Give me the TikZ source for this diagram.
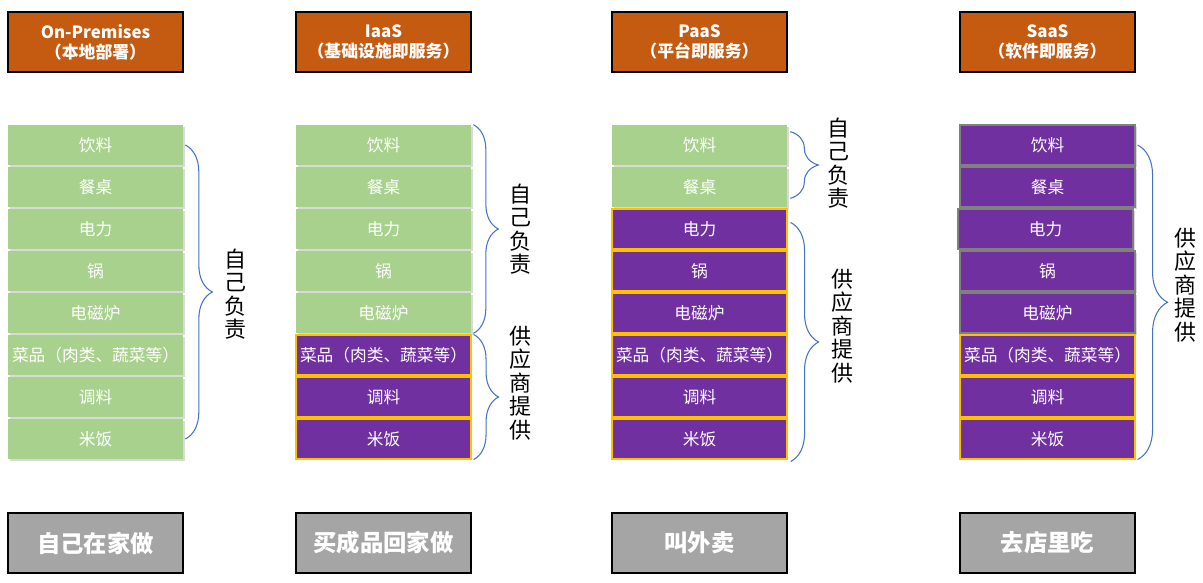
\documentclass[tikz,border=0pt]{standalone}
\usepackage{fontspec}
\setmainfont{Noto Sans CJK SC}
\usetikzlibrary{decorations.pathreplacing,shadows}

\definecolor{headorange}{HTML}{C55A11}
\definecolor{selfgreen}{HTML}{A9D18E}
\definecolor{vendorpurple}{HTML}{7030A0}
\definecolor{vendorgold}{HTML}{FFC000}
\definecolor{footgray}{HTML}{A5A5A5}
\definecolor{braceblue}{HTML}{4472C4}

\tikzset{
  header/.style={draw=black, line width=0.8pt, fill=headorange, text=white, align=center,
    minimum width=3.5cm, minimum height=1.2cm, inner sep=1pt, font=\bfseries\fontsize{9.6}{11.3}\selectfont},
  footer/.style={draw=black, line width=0.8pt, fill=footgray, text=white,
    minimum width=3.5cm, minimum height=1.2cm, font=\bfseries\fontsize{13.3}{15}\selectfont},
  selfbox/.style={fill=selfgreen, text=white, minimum width=3.5cm, minimum height=0.8cm, inner sep=1pt,
    font=\fontsize{9.5}{11}\selectfont, drop shadow={opacity=0.3, shadow xshift=1.2pt, shadow yshift=-1.2pt}},
  vendorbox/.style={fill=vendorpurple, draw=vendorgold, line width=0.65pt, text=white, minimum width=3.5cm,
    minimum height=0.8cm, inner sep=1pt, font=\fontsize{9.5}{11}\selectfont},
  vendorshadow/.style={vendorbox, draw=gray, drop shadow={opacity=0.3, shadow xshift=1.2pt, shadow yshift=-1.2pt}},
  bracket/.style={decorate, draw=braceblue, line width=0.6pt},
  vtext/.style={align=center, inner sep=0pt, font=\fontsize{12.5}{13.3}\selectfont}
}

\begin{document}
\begin{tikzpicture}[x=0.02cm, y=-0.02cm]
  \useasboundingbox (0,0) rectangle (1203,582);

  % On-Premises
  \node[header] (ophead) at (95.5,42) {On-Premises\\（本地部署）};
  \node[selfbox] (op1) at (95.5,145) {饮料};
  \node[selfbox] (op2) at (95.5,187) {餐桌};
  \node[selfbox] (op3) at (95.5,229) {电力};
  \node[selfbox] (op4) at (95.5,271) {锅};
  \node[selfbox] (op5) at (95.5,313) {电磁炉};
  \node[selfbox] (op6) at (95.5,355) {菜品（肉类、蔬菜等）};
  \node[selfbox] (op7) at (95.5,397) {调料};
  \node[selfbox] (op8) at (95.5,439) {米饭};
  \node[footer] (opfoot) at (95.5,543) {自己在家做};
  \draw[bracket, decoration={brace, amplitude=0.54cm}] ([xshift=0.04cm]op1.east) -- ([xshift=0.04cm]op8.east);
  \node[vtext] (opself) at (235,294) {自\\己\\负\\责};

  % IaaS
  \node[header] (iaashead) at (383.5,42) {IaaS\\（基础设施即服务）};
  \node[selfbox] (iaas1) at (383.5,145) {饮料};
  \node[selfbox] (iaas2) at (383.5,187) {餐桌};
  \node[selfbox] (iaas3) at (383.5,229) {电力};
  \node[selfbox] (iaas4) at (383.5,271) {锅};
  \node[selfbox] (iaas5) at (383.5,313) {电磁炉};
  \node[vendorbox] (iaas6) at (383.5,355) {菜品（肉类、蔬菜等）};
  \node[vendorbox] (iaas7) at (383.5,397) {调料};
  \node[vendorbox] (iaas8) at (383.5,439) {米饭};
  \node[footer] (iaasfoot) at (383.5,543) {买成品回家做};
  \draw[bracket, decoration={brace, amplitude=0.5cm}] ([xshift=0.04cm]iaas1.north east) -- ([xshift=0.04cm]iaas5.south east);
  \draw[bracket, decoration={brace, amplitude=0.5cm}] ([xshift=0.04cm]iaas6.north east) -- ([xshift=0.04cm]iaas8.south east);
  \node[vtext] (iaasself) at (520,229) {自\\己\\负\\责};
  \node[vtext] (iaasvendor) at (520,383) {供\\应\\商\\提\\供};

  % PaaS
  \node[header] (paashead) at (699.5,42) {PaaS\\（平台即服务）};
  \node[selfbox] (paas1) at (699.5,145) {饮料};
  \node[selfbox] (paas2) at (699.5,187) {餐桌};
  \node[vendorbox] (paas3) at (699.5,229) {电力};
  \node[vendorbox] (paas4) at (699.5,271) {锅};
  \node[vendorbox] (paas5) at (699.5,313) {电磁炉};
  \node[vendorbox] (paas6) at (699.5,355) {菜品（肉类、蔬菜等）};
  \node[vendorbox] (paas7) at (699.5,397) {调料};
  \node[vendorbox] (paas8) at (699.5,439) {米饭};
  \node[footer] (paasfoot) at (699.5,543) {叫外卖};
  \draw[bracket, decoration={brace, amplitude=0.56cm}] ([xshift=0.06cm, yshift=-0.14cm]paas1.north east) -- ([xshift=0.06cm, yshift=0.18cm]paas2.south east);
  \draw[bracket, decoration={brace, amplitude=0.56cm}] ([xshift=0.06cm, yshift=-0.28cm]paas3.north east) -- ([xshift=0.06cm, yshift=-0.04cm]paas8.south east);
  \node[vtext] (paasself) at (838,163) {自\\己\\负\\责};
  \node[vtext] (paasvendor) at (842,326) {供\\应\\商\\提\\供};

  % SaaS
  \node[header] (saashead) at (1047.5,42) {SaaS\\（软件即服务）};
  \node[vendorshadow] (saas1) at (1047.5,145) {饮料};
  \node[vendorshadow] (saas2) at (1047.5,187) {餐桌};
  \node[vendorshadow] (saas3) at (1045.5,229) {电力};
  \node[vendorshadow] (saas4) at (1047.5,271) {锅};
  \node[vendorshadow] (saas5) at (1047.5,313) {电磁炉};
  \node[vendorbox] (saas6) at (1047.5,355) {菜品（肉类、蔬菜等）};
  \node[vendorbox] (saas7) at (1047.5,397) {调料};
  \node[vendorbox] (saas8) at (1047.5,439) {米饭};
  \node[footer] (saasfoot) at (1047.5,543) {去店里吃};
  \draw[bracket, decoration={brace, amplitude=0.6cm}] ([xshift=0.04cm]saas1.east) -- ([xshift=0.04cm]saas8.south east);
  \node[vtext] (saasvendor) at (1185,285) {供\\应\\商\\提\\供};
\end{tikzpicture}
\end{document}
